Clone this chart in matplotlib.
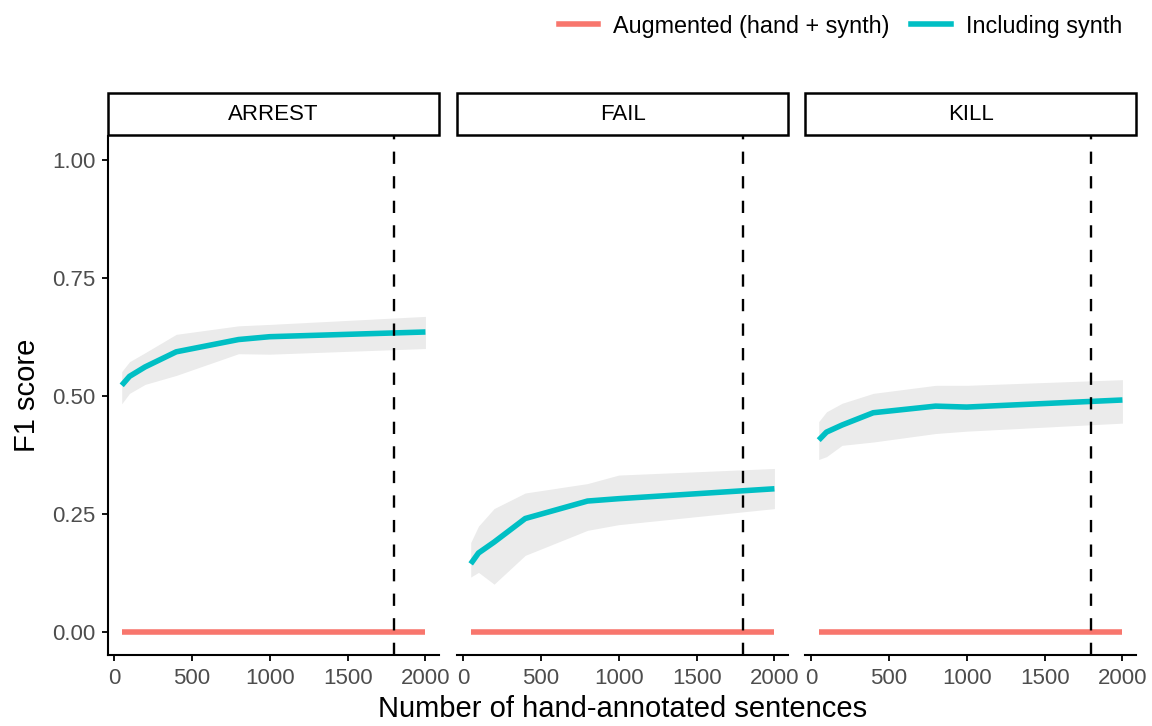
import numpy as np
import matplotlib.pyplot as plt
from matplotlib.lines import Line2D
from matplotlib.patches import Rectangle

plt.rcParams['font.family'] = ['Liberation Sans', 'DejaVu Sans']

# data
panels = ['ARREST', 'FAIL', 'KILL']
n_hand = [50, 100, 200, 400, 800, 1000, 2000]

synth_f1 = {
    'ARREST': [0.523, 0.542, 0.562, 0.594, 0.620, 0.626, 0.636],
    'FAIL':   [0.145, 0.168, 0.191, 0.241, 0.278, 0.283, 0.304],
    'KILL':   [0.407, 0.424, 0.439, 0.465, 0.479, 0.477, 0.492],
}
synth_lo = {
    'ARREST': [0.484, 0.506, 0.525, 0.544, 0.590, 0.589, 0.601],
    'FAIL':   [0.117, 0.127, 0.102, 0.163, 0.216, 0.228, 0.262],
    'KILL':   [0.366, 0.372, 0.396, 0.403, 0.421, 0.426, 0.443],
}
synth_hi = {
    'ARREST': [0.552, 0.573, 0.592, 0.631, 0.649, 0.652, 0.669],
    'FAIL':   [0.190, 0.225, 0.262, 0.295, 0.315, 0.333, 0.347],
    'KILL':   [0.446, 0.467, 0.485, 0.506, 0.523, 0.523, 0.535],
}
augmented_f1 = [0.0, 0.0, 0.0, 0.0, 0.0, 0.0, 0.0]
cutoff = 1800

red = '#F8766D'
teal = '#00BFC4'

fig = plt.figure(figsize=(11.52, 7.26), dpi=100)
W, H = 1152, 726
lefts = [108, 457, 805]
pw = 331
top, bottom = 136, 655

axes = []
for i, name in enumerate(panels):
    ax = fig.add_axes([lefts[i] / W, (H - bottom) / H, pw / W, (bottom - top) / H])
    axes.append(ax)
    ax.fill_between(n_hand, synth_lo[name], synth_hi[name], color='#EBEBEB', lw=0, zorder=1)
    ax.plot(n_hand, augmented_f1, color=red, lw=4, solid_capstyle='butt', zorder=2)
    ax.plot(n_hand, synth_f1[name], color=teal, lw=4, solid_capstyle='butt', zorder=3)
    ax.axvline(cutoff, color='black', lw=1.7, dashes=(5.2, 5.2), zorder=4)

    ax.set_xlim(-38, 2087)
    ax.set_ylim(-0.048, 1.051)
    ax.set_xticks([0, 500, 1000, 1500, 2000])
    ax.set_yticks([0, 0.25, 0.5, 0.75, 1.0])
    ax.set_yticklabels(['0.00', '0.25', '0.50', '0.75', '1.00'])
    for s in ['top', 'right']:
        ax.spines[s].set_visible(False)
    ax.spines['bottom'].set_linewidth(1.5)
    ax.spines['left'].set_linewidth(1.5)
    ax.tick_params(axis='both', labelsize=16, labelcolor='#4D4D4D', width=1.3,
                   length=4, pad=5)
    if i > 0:
        ax.spines['left'].set_visible(False)
        ax.tick_params(axis='y', left=False, labelleft=False)

    # facet strip
    sx = lefts[i] / W
    sy = (H - 135) / H
    sh = 42 / H
    strip = Rectangle((sx, sy), pw / W, sh, transform=fig.transFigure,
                      facecolor='white', edgecolor='black', lw=1.8)
    fig.add_artist(strip)
    fig.text(sx + pw / W / 2, sy + sh / 2, name, ha='center', va='center', fontsize=16)

axes[0].set_ylabel('F1 score', fontsize=21, labelpad=8)
fig.text((108 + 1137) / 2 / W, 1 - 709 / H, 'Number of hand-annotated sentences',
         ha='center', va='center', fontsize=21)

handles = [Line2D([], [], color=red, lw=4), Line2D([], [], color=teal, lw=4)]
fig.legend(handles, ['Augmented (hand + synth)', 'Including synth'],
           loc='center right', bbox_to_anchor=(1143 / W, 1 - 26 / H), ncol=2,
           frameon=False, fontsize=16.8, handlelength=1.7, columnspacing=0.9,
           handletextpad=0.65)

fig.savefig('out.png', dpi=100)
